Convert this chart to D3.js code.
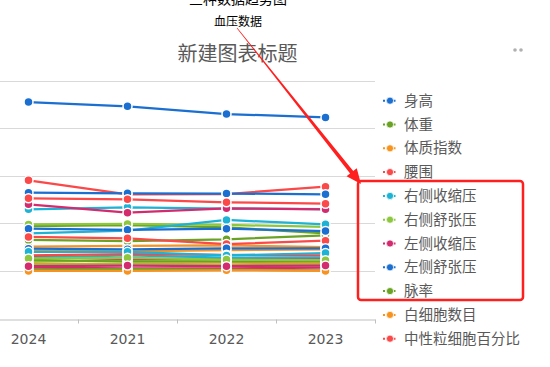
<!DOCTYPE html>
<html>
<head>
<meta charset="utf-8">
<script src="https://cdn.jsdelivr.net/npm/d3@7"></script>
<style>
  html, body { margin: 0; padding: 0; background: #fff; }
  svg { display: block; }
</style>
</head>
<body>
<div id="chart"></div>
<script>
// Categories (x axis)
const years = ['2024', '2021', '2022', '2023'];

// Series names (only the first page of the legend is visible)
const seriesNames = [
  '身高', '体重', '体质指数', '腰围', '右侧收缩压', '右侧舒张压', '左侧收缩压',
  '左侧舒张压', '脉率', '白细胞数目', '中性粒细胞百分比', '淋巴细胞百分比',
  '单核细胞百分比', '嗜酸性粒细胞百分比', '嗜碱性粒细胞百分比', '中性粒细胞数目',
  '淋巴细胞数目', '单核细胞数目', '红细胞数目', '血红蛋白', '红细胞压积',
  '平均红细胞体积', '平均红细胞血红蛋白含量', '平均红细胞血红蛋白浓度',
  '红细胞分布宽度', '血小板数目', '平均血小板体积', '血小板压积'
];

// Values per series, in the order of years
const seriesValues = [
  [181.9, 178.3, 171.8, 169.0],
  [77.7, 78.5, 76.5, 71.5],
  [60.5, 61.0, 61.5, 60.0],
  [116.1, 104.4, 104.6, 110.8],
  [91.8, 93.4, 92.4, 92.0],
  [79.0, 79.5, 78.6, 77.0],
  [96.0, 88.9, 92.6, 91.8],
  [105.7, 105.2, 105.0, 104.4],
  [66.0, 65.0, 66.5, 69.9],
  [57.0, 56.5, 57.5, 58.0],
  [101.0, 100.2, 97.6, 96.5],
  [71.6, 73.8, 82.8, 79.1],
  [47.5, 49.0, 48.0, 47.7],
  [52.0, 50.0, 50.5, 50.0],
  [75.5, 74.5, 75.5, 73.5],
  [49.2, 47.7, 47.7, 48.0],
  [46.0, 46.0, 45.5, 46.0],
  [68.5, 67.4, 62.6, 65.4],
  [51.0, 53.1, 51.1, 51.4],
  [45.0, 45.5, 44.5, 45.0],
  [42.7, 42.2, 42.2, 42.7],
  [58.7, 58.1, 59.0, 59.0],
  [41.0, 41.5, 41.0, 40.5],
  [40.0, 40.0, 40.5, 40.0],
  [53.1, 54.0, 53.5, 53.0],
  [56.0, 56.0, 53.0, 55.0],
  [50.5, 51.0, 49.5, 49.0],
  [44.0, 44.5, 44.0, 44.5]
];

// Gridline values (labels fall outside the cropped view)
const yTicks = [0, 40, 80, 120, 160, 200];

// Theme palette, cycled through the series
const palette = ['#1a6fd0', '#6aa324', '#f8931f', '#fb4848', '#1eb2d4', '#8dc63f', '#d42a6e'];

// Annotation texts drawn over the screenshot
const noteTop = '三种数据趋势图';
const noteSub = '血压数据';
const titleText = '新建图表标题';

const width = 550, height = 367;
const legendCount = 11;

const svg = d3.select('#chart')
  .append('svg')
  .attr('width', width)
  .attr('height', height);

// Scales: plot area starts left of the visible window (axis labels cropped away)
const x = d3.scaleBand().domain(years).range([-21, 375]);
const y = d3.scaleLinear().domain([0, 200]).range([318.5, 80.5]);
const cx = d => x(d) + x.bandwidth() / 2;
const color = i => palette[i % palette.length];

// Gridlines
svg.append('g')
  .selectAll('line')
  .data(yTicks.filter(t => t > 0))
  .enter()
  .append('line')
  .attr('x1', -21).attr('x2', 375)
  .attr('y1', d => Math.round(y(d)) + 0.5)
  .attr('y2', d => Math.round(y(d)) + 0.5)
  .attr('stroke', '#d9d9d9')
  .attr('stroke-width', 1);

// X axis
const xAxis = svg.append('g')
  .attr('transform', `translate(0, ${Math.round(y(0)) + 0.5})`)
  .call(d3.axisBottom(x).tickSize(0).tickPadding(0));
xAxis.select('.domain').attr('stroke', '#bfbfbf');
xAxis.selectAll('.tick text').remove();
// category boundary ticks
xAxis.selectAll('line.bound')
  .data(years.concat(['end']))
  .enter()
  .append('line')
  .attr('class', 'bound')
  .attr('x1', (d, i) => Math.round(-21 + i * x.step()) + 0.5)
  .attr('x2', (d, i) => Math.round(-21 + i * x.step()) + 0.5)
  .attr('y1', 0).attr('y2', 4)
  .attr('stroke', '#bfbfbf');
xAxis.selectAll('text.cat')
  .data(years)
  .enter()
  .append('text')
  .attr('class', 'cat')
  .attr('x', d => cx(d))
  .attr('y', 24)
  .attr('text-anchor', 'middle')
  .attr('font-family', 'DejaVu Sans, sans-serif')
  .attr('font-size', 14)
  .attr('fill', '#595959')
  .text(d => d);

// Lines
const line = d3.line()
  .x((v, j) => cx(years[j]))
  .y(v => y(v));

const series = seriesNames.map((name, i) => ({ name, values: seriesValues[i], i }));

svg.append('g')
  .selectAll('path')
  .data(series)
  .enter()
  .append('path')
  .attr('d', d => line(d.values))
  .attr('fill', 'none')
  .attr('stroke', d => color(d.i))
  .attr('stroke-width', 2.25);

// Markers
const markerGroups = svg.append('g')
  .selectAll('g')
  .data(series)
  .enter()
  .append('g');

markerGroups.selectAll('circle')
  .data(d => d.values.map((v, j) => ({ v, j, i: d.i })))
  .enter()
  .append('circle')
  .attr('cx', d => cx(years[d.j]))
  .attr('cy', d => y(d.v))
  .attr('r', 4.5)
  .attr('fill', d => color(d.i))
  .attr('stroke', '#fff')
  .attr('stroke-width', 1.5);

// Title
svg.append('text')
  .attr('x', 237.5)
  .attr('y', 61)
  .attr('text-anchor', 'middle')
  .attr('font-family', 'Noto Sans CJK SC, sans-serif')
  .attr('font-size', 20)
  .attr('fill', '#595959')
  .text(titleText);

// Legend (first page)
const legend = svg.append('g')
  .selectAll('g')
  .data(series.slice(0, legendCount))
  .enter()
  .append('g')
  .attr('transform', (d, i) => `translate(390, ${100.7 + i * 23.8})`);

legend.append('line')
  .attr('x1', -7).attr('x2', 7)
  .attr('stroke', d => color(d.i))
  .attr('stroke-width', 2)
  .attr('stroke-dasharray', '2,1.5');
legend.append('circle')
  .attr('r', 3.6)
  .attr('fill', d => color(d.i))
  .attr('stroke', '#fff')
  .attr('stroke-width', 0.8);
legend.append('text')
  .attr('x', 14)
  .attr('y', 5)
  .attr('font-family', 'Noto Sans CJK SC, sans-serif')
  .attr('font-size', 14.5)
  .attr('fill', '#595959')
  .text(d => d.name);

// Pager dots, top right
svg.append('g')
  .selectAll('circle')
  .data([515, 521])
  .enter()
  .append('circle')
  .attr('cx', d => d).attr('cy', 50)
  .attr('r', 1.8)
  .attr('fill', '#b0b0b0');

// Annotations on top
svg.append('text')
  .attr('x', 238).attr('y', 4)
  .attr('text-anchor', 'middle')
  .attr('font-family', 'Noto Sans CJK SC, sans-serif')
  .attr('font-size', 14)
  .attr('fill', '#000')
  .text(noteTop);

svg.append('text')
  .attr('x', 238).attr('y', 26)
  .attr('text-anchor', 'middle')
  .attr('font-family', 'Noto Sans CJK SC, sans-serif')
  .attr('font-size', 12)
  .attr('fill', '#000')
  .text(noteSub);

svg.append('rect')
  .attr('x', 358).attr('y', 181)
  .attr('width', 165).attr('height', 119)
  .attr('rx', 3)
  .attr('fill', 'none')
  .attr('stroke', '#ff1f1f')
  .attr('stroke-width', 2.5);

// Tapered red arrow from the note to the box corner
const a0 = [237, 28], a1 = [361, 184];
const len = Math.hypot(a1[0] - a0[0], a1[1] - a0[1]);
const ux = (a1[0] - a0[0]) / len, uy = (a1[1] - a0[1]) / len;
const px = -uy, py = ux;
const headLen = 15, headHalf = 6.5;
const base = [a1[0] - ux * headLen, a1[1] - uy * headLen];
const pts = [
  [a0[0] + px * 0.3, a0[1] + py * 0.3],
  [base[0] + px * 2, base[1] + py * 2],
  [base[0] + px * headHalf, base[1] + py * headHalf],
  a1,
  [base[0] - px * headHalf, base[1] - py * headHalf],
  [base[0] - px * 2, base[1] - py * 2],
  [a0[0] - px * 0.3, a0[1] - py * 0.3]
];
svg.append('path')
  .attr('d', 'M' + pts.map(p => p.join(',')).join('L') + 'Z')
  .attr('fill', '#ff1f1f');
</script>
</body>
</html>
